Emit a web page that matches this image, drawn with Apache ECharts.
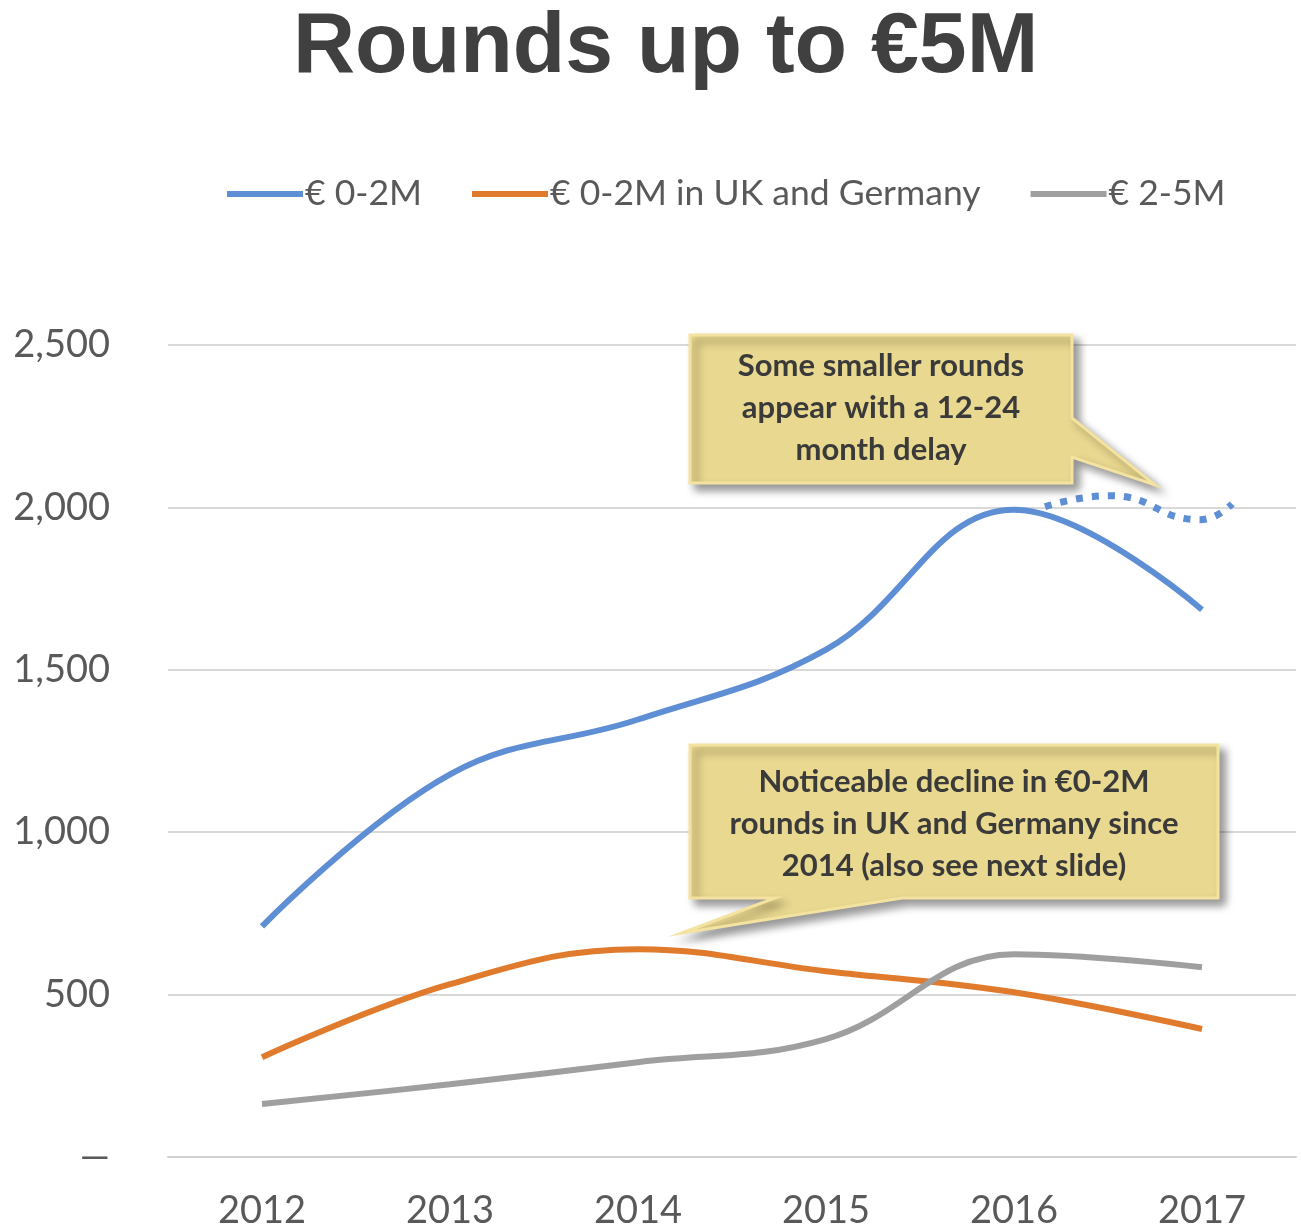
<!DOCTYPE html>
<html><head><meta charset="utf-8">
<script src="https://cdn.jsdelivr.net/npm/echarts@6/dist/echarts.min.js"></script>
<style>html,body{margin:0;padding:0;background:#fff}#c{width:1301px;height:1230px}</style>
</head><body><div id="c"></div>
<script>
const years = ['2012','2013','2014','2015','2016','2017'];
const seriesNames = ['€ 0-2M','€ 0-2M in UK and Germany','€ 2-5M'];
const rounds0to2 = [710, 1178, 1347, 1562, 1993, 1685];
const rounds0to2UKDE = [307, 532, 640, 572, 507, 394];
const rounds2to5 = [163, 224, 292, 363, 624, 584];
// expected (delayed reporting) continuation of €0-2M, x in category-index units
const expected0to2 = [[4.165, 2002], [4.51, 2036], [4.99, 1962], [5.16, 2011]];
const yTicks = [0, 500, 1000, 1500, 2000, 2500];
const note1 = 'Some smaller rounds\nappear with a 12-24\nmonth delay';
const note2 = 'Noticeable decline in €0-2M\nrounds in UK and Germany since\n2014 (also see next slide)';

const blue = '#5e8ed3', orange = '#e07a2c', gray = '#9f9f9f';
const txt = '#595959';
const font = 'Lato, "Open Sans", sans-serif';
const chart = echarts.init(document.getElementById('c'));

function callout(points, textX, textY, text) {
  return [
    { type: 'polygon', shape: { points },
      style: { fill: '#e9d88f', stroke: '#f4e3a0', lineWidth: 3,
        shadowBlur: 8, shadowOffsetX: 6, shadowOffsetY: 6, shadowColor: 'rgba(0,0,0,0.4)' }, z: 11 },
    { type: 'text', x: textX, y: textY, z: 12,
      style: { text, fill: '#3a3a3a', font: 'bold 31px ' + font, align: 'center', verticalAlign: 'middle', lineHeight: 42 } }
  ];
}

chart.setOption({
  animation: false,
  backgroundColor: '#fff',
  title: { text: 'Rounds up to €5M', left: 288, top: 0,
    textStyle: { fontFamily: '"Liberation Sans", Arial, sans-serif', fontWeight: 'bold', fontSize: 86, color: '#404040' } },
  legend: {
    data: seriesNames, left: 222, top: 171, icon: 'rect', itemWidth: 76, itemHeight: 6, itemGap: 50,
    textStyle: { fontFamily: font, fontSize: 35.5, color: txt, padding: [0, 0, 0, -3] }
  },
  grid: { left: 168, right: 5, top: 345, bottom: 72 },
  xAxis: [
    { type: 'category', data: years, boundaryGap: true,
      axisLine: { lineStyle: { color: '#d0d0d0', width: 2 } }, axisTick: { show: false },
      axisLabel: { fontFamily: font, fontSize: 38, color: txt, margin: 35 } },
    { type: 'value', min: -0.5, max: 5.5, show: false }
  ],
  yAxis: {
    type: 'value', min: 0, max: 2500, interval: 500,
    axisLine: { show: false }, axisTick: { show: false },
    splitLine: { lineStyle: { color: '#d9d9d9', width: 2 } },
    axisLabel: { fontFamily: font, fontSize: 38, color: txt, margin: 58,
      formatter: v => v === 0 ? '—' : v.toLocaleString('en-US') }
  },
  series: [
    { name: seriesNames[0], type: 'line', data: rounds0to2, smooth: 0.4, symbol: 'none',
      lineStyle: { color: blue, width: 6 }, itemStyle: { color: blue } },
    { name: seriesNames[1], type: 'line', data: rounds0to2UKDE, smooth: 0.4, symbol: 'none',
      lineStyle: { color: orange, width: 6 }, itemStyle: { color: orange } },
    { name: seriesNames[2], type: 'line', data: rounds2to5, smooth: 0.4, symbol: 'none',
      lineStyle: { color: gray, width: 6 }, itemStyle: { color: gray } },
    { name: 'expected', type: 'line', xAxisIndex: 1, data: expected0to2, smooth: 0.5, symbol: 'none',
      lineStyle: { color: blue, width: 7, type: [7, 9], cap: 'butt' } }
  ],
  graphic: [
    ...callout([[690,335],[1072,335],[1072,418],[1155,485],[1072,457],[1072,483],[690,483]], 881, 408, note1),
    ...callout([[690,745],[1218,745],[1218,898],[902,898],[682,933],[775,898],[690,898]], 954, 824, note2)
  ]
});
</script></body></html>
